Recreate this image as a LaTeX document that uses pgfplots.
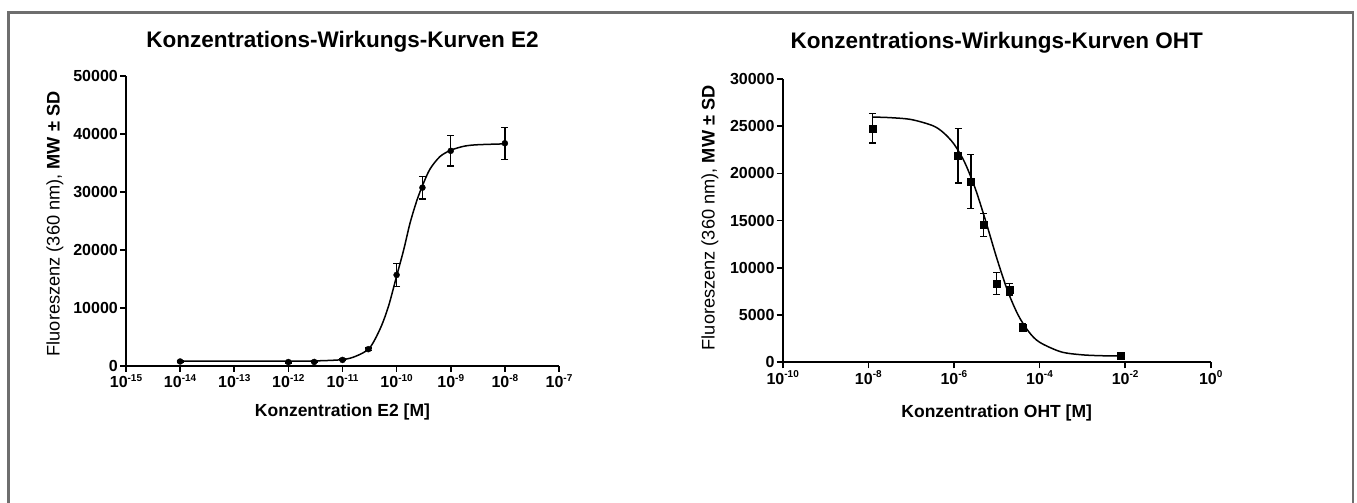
\documentclass[border=0pt]{standalone}
\usepackage{fontspec}
\setmainfont{Liberation Sans}
\usepackage{pgfplots}
\usepackage{pgfplotstable}
\pgfplotsset{compat=1.18}

\definecolor{framegray}{RGB}{110,110,110}
\newcommand\tl[1]{\textbf{10}\raisebox{0.42em}{\fontsize{10}{10}\selectfont\textbf{#1}}}

% E2 data: concentration, mean, SD
\pgfplotstableread{
x        y      e
1e-14    780    150
1e-12    680    150
3e-12    700    150
1e-11    1050   150
3e-11    2900   200
1e-10    15700  2000
3e-10    30750  1950
1e-9     37100  2600
1e-8     38400  2760
}\eda
% E2 fitted curve
\pgfplotstableread{
x          y
1e-14      820
1e-13      820
1e-12      830
3.162e-12  880
1e-11      1100
1.778e-11  1700
3.162e-11  3100
5.012e-11  6500
7.079e-11  10300
1e-10      15500
1.349e-10  20000
1.778e-10  24700
2.399e-10  28700
3.162e-10  31600
4.169e-10  34000
6.310e-10  36100
1e-9       37200
1.778e-9   37900
3.162e-9   38150
1e-8       38300
}\efit
% OHT data
\pgfplotstableread{
x        y      e
1.25e-8  24780  1550
1.25e-6  21880  2880
2.5e-6   19130  2860
5e-6     14540  1200
1e-5     8360   1160
2e-5     7730   600
4e-5     3670   420
8e-3     700    100
}\oda
% OHT fitted curve
\pgfplotstableread{
x          y
1.259e-8   25970
3.162e-8   25910
1e-7       25710
3.162e-7   25070
5.623e-7   24340
1e-6       23120
1.778e-6   21190
3.162e-6   18390
5.623e-6   14850
1e-5       11050
1.778e-5   7630
3.162e-5   5010
5.623e-5   3230
1e-4       2130
3.162e-4   1110
1e-3       790
3.162e-3   690
7.94e-3    670
}\ofit

\begin{document}
\begin{tikzpicture}[x=1pt,y=1pt]
\useasboundingbox (0,0) rectangle (1357,503);
\draw[framegray, line width=2.5pt] (8.5,-5) -- (8.5,490.5) -- (1353,490.5) -- (1353,-5);

\begin{axis}[
  scale only axis,
  xmode=log, log basis x=10,
  xminorticks=false, yminorticks=false,
  scaled y ticks=false,
  axis x line*=bottom, axis y line*=left,
  axis line style={line width=2pt, black},
  tick style={line width=1.6pt, black},
  tick align=outside,
  major tick length=6pt,
  clip=false,
  xticklabel style={font=\fontsize{16}{16}\selectfont\bfseries, inner sep=2pt},
  yticklabel style={font=\fontsize{16}{16}\selectfont\bfseries, inner sep=2pt},
  at={(126pt,137pt)}, anchor=south west,
  width=433pt, height=290pt,
  xmin=1e-15, xmax=1e-7, ymin=0, ymax=50000,
  xtick={1e-15,1e-14,1e-13,1e-12,1e-11,1e-10,1e-9,1e-8,1e-7},
  xticklabels={\tl{-15},\tl{-14},\tl{-13},\tl{-12},\tl{-11},\tl{-10},\tl{-9},\tl{-8},\tl{-7}},
  ytick={0,10000,20000,30000,40000,50000},
  yticklabels={0,10000,20000,30000,40000,50000},
  title={Konzentrations-Wirkungs-Kurven E2},
  title style={font=\fontsize{22.5}{24}\selectfont\bfseries, anchor=base, yshift=0pt, at={(axis description cs:0.5,1.0759)}},
  xlabel={Konzentration E2 [M]},
  xlabel style={font=\fontsize{17.5}{18}\selectfont\bfseries, anchor=base, at={(axis description cs:0.5,-0.175)}},
  ylabel={Fluoreszenz (360 nm), \textbf{MW ± SD}},
  ylabel style={font=\fontsize{18.2}{19}\selectfont, anchor=center, at={(axis description cs:-0.164,0.49)}},
]
\addplot[black, line width=1.5pt, smooth, no marks] table[x=x,y=y] {\efit};
\addplot[black, only marks, mark=*, mark size=3pt,
  error bars/y dir=both, error bars/y explicit,
  error bars/error bar style={line width=1.3pt, black},
  error bars/error mark options={rotate=90, mark size=3.5pt, line width=1.3pt, black}]
  table[x=x,y=y,y error=e] {\eda};
\end{axis}

\begin{axis}[
  scale only axis,
  xmode=log, log basis x=10,
  xminorticks=false, yminorticks=false,
  scaled y ticks=false,
  axis x line*=bottom, axis y line*=left,
  axis line style={line width=2pt, black},
  tick style={line width=1.6pt, black},
  tick align=outside,
  major tick length=6pt,
  clip=false,
  xticklabel style={font=\fontsize{16}{16}\selectfont\bfseries, inner sep=2pt},
  yticklabel style={font=\fontsize{16}{16}\selectfont\bfseries, inner sep=2pt},
  at={(782.7pt,140.7pt)}, anchor=south west,
  width=428pt, height=283.3pt,
  xmin=1e-10, xmax=1, ymin=0, ymax=30000,
  xtick={1e-10,1e-8,1e-6,1e-4,1e-2,1},
  xticklabels={\tl{-10},\tl{-8},\tl{-6},\tl{-4},\tl{-2},\tl{0}},
  ytick={0,5000,10000,15000,20000,25000,30000},
  yticklabels={0,5000,10000,15000,20000,25000,30000},
  title={Konzentrations-Wirkungs-Kurven OHT},
  title style={font=\fontsize{22.5}{24}\selectfont\bfseries, anchor=base, yshift=0pt, at={(axis description cs:0.5,1.088)}},
  xlabel={Konzentration OHT [M]},
  xlabel style={font=\fontsize{17.5}{18}\selectfont\bfseries, anchor=base, at={(axis description cs:0.5,-0.195)}},
  ylabel={Fluoreszenz (360 nm), \textbf{MW ± SD}},
  ylabel style={font=\fontsize{18.2}{19}\selectfont, anchor=center, at={(axis description cs:-0.170,0.51)}},
]
\addplot[black, line width=1.5pt, smooth, no marks] table[x=x,y=y] {\ofit};
\addplot[black, only marks, mark=square*, mark size=3.5pt,
  error bars/y dir=both, error bars/y explicit,
  error bars/error bar style={line width=1.3pt, black},
  error bars/error mark options={rotate=90, mark size=3.5pt, line width=1.3pt, black}]
  table[x=x,y=y,y error=e] {\oda};
\end{axis}
\end{tikzpicture}
\end{document}
